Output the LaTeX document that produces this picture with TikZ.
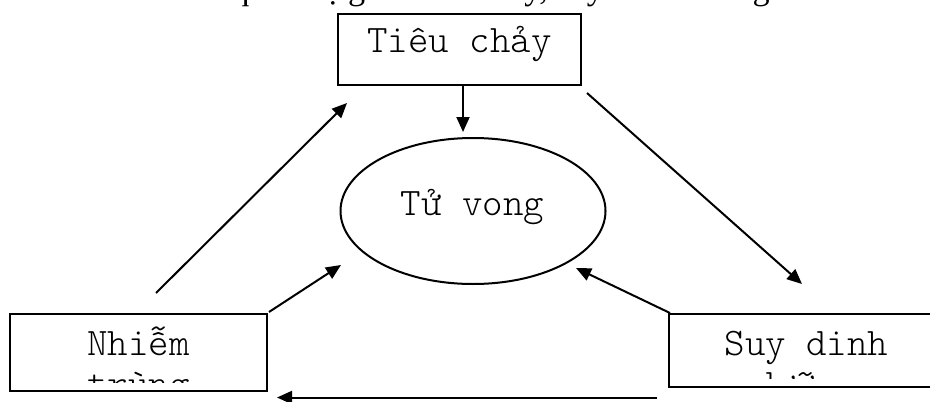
\documentclass[tikz,border=0pt]{standalone}
\usepackage{fontspec}
\setmainfont{Liberation Serif}
\newfontfamily\cmono{lmmonolt10-regular.otf}
\usetikzlibrary{arrows.meta,shapes.geometric}
\begin{document}
\begin{tikzpicture}[x=0.5pt,y=-0.5pt,
  boxnode/.style={draw,line width=1pt,inner sep=0pt,rectangle},
  ovalnode/.style={draw,line width=1pt,inner sep=0pt,ellipse},
  txt/.style={font=\cmono\fontsize{19.5pt}{22pt}\selectfont,inner sep=0pt,anchor=base},
  conn/.style={line width=1pt,-{Triangle[length=7.5pt,width=6.5pt]}}]
\useasboundingbox (0,0) rectangle (930,401);
\clip (0,0) rectangle (930,401);
% cut-off line of text above the picture
\node[font=\fontsize{17.1pt}{20pt}\selectfont,inner sep=0pt,anchor=base west] (title) at (40,0) {Sơ đồ 1: Mối quan hệ giữa tiêu chảy, suy dinh dưỡng và nhiễm trùng};
% boxes
\node[boxnode,minimum width=121.5pt,minimum height=35.5pt] (tieu) at (459.5,49.5) {};
\node[ovalnode,minimum width=132.5pt,minimum height=73pt] (tuvong) at (473,211) {};
\node[boxnode,minimum width=128.5pt,minimum height=38.5pt] (nhiem) at (138.5,352.5) {};
\node[boxnode,minimum width=137.5pt,minimum height=36.5pt] (suy) at (806.5,350.5) {};
% texts
\node[txt] (tieut) at (459.5,53) {Tiêu chảy};
\node[txt] (tuvongt) at (472.5,215) {Tử vong};
\begin{scope}
\clip (10,314) rectangle (267,382);
\node[txt] (nhiemt1) at (138.5,355) {Nhiễm};
\node[txt] (nhiemt2) at (138.5,396) {trùng};
\end{scope}
\begin{scope}
\clip (669,314) rectangle (944,378);
\node[txt] (suyt1) at (806.5,355) {Suy dinh};
\node[txt] (suyt2) at (806.5,396) {dưỡng};
\end{scope}
% connector end points
\coordinate (c1s) at (156,293);
\coordinate (c1e) at (347,103);
\coordinate (c2s) at (269,312);
\coordinate (c2e) at (341,265);
\coordinate (c3s) at (463,85);
\coordinate (c3e) at (463,132);
\coordinate (c4s) at (587,93);
\coordinate (c4e) at (802,284);
\coordinate (c5s) at (670,313);
\coordinate (c5e) at (576,268);
\coordinate (c6s) at (657,397.5);
\coordinate (c6e) at (277,397.5);
\draw[conn] (c1s) -- (c1e);
\draw[conn] (c2s) -- (c2e);
\draw[conn] (c3s) -- (c3e);
\draw[conn] (c4s) -- (c4e);
\draw[conn] (c5s) -- (c5e);
\draw[conn] (c6s) -- (c6e);
\end{tikzpicture}
\end{document}
